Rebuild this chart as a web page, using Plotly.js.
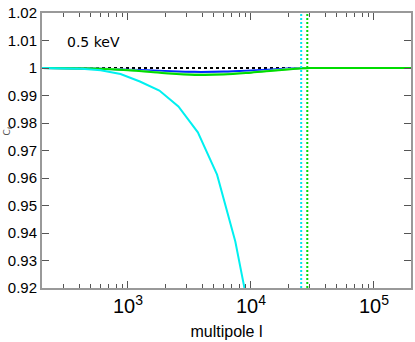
<!DOCTYPE html>
<html><head><meta charset="utf-8">
<script src="https://cdn.plot.ly/plotly-3.0.1.min.js"></script>
<style>html,body{margin:0;padding:0;background:#fff}#c{width:415px;height:342px}</style>
</head><body><div id="c"></div>
<script>
// multipole values
var ellCyan = [200, 290, 420, 600, 870, 1250, 1800, 2570, 3700, 5300, 7460, 10700];
var ratioCyan = [1.0, 0.9999, 0.9997, 0.9992, 0.9978, 0.9951, 0.9918, 0.9860, 0.9766, 0.9612, 0.9369, 0.9012];

var ellSmooth = [200, 500, 1000, 2000, 3500, 6000, 10000, 15000, 20000, 25000, 30000, 50000, 100000, 200000];
var ratioBlue = [1.0, 0.9998, 0.9994, 0.9989, 0.9986, 0.9987, 0.9991, 0.9995, 0.9998, 1.0, 1.0, 1.0, 1.0, 1.0];
var ratioLightBlue = [1.0, 0.9998, 0.9993, 0.9987, 0.9984, 0.9985, 0.9989, 0.9994, 0.9997, 0.9999, 1.0, 1.0, 1.0, 1.0];
var ratioGreen = [1.0, 0.9998, 0.9992, 0.9981, 0.9975, 0.9976, 0.9983, 0.9990, 0.9995, 0.9998, 1.0, 1.0, 1.0, 1.0];
var ratioLightGreen = [1.0, 0.9998, 0.9993, 0.9983, 0.9978, 0.9979, 0.9985, 0.9991, 0.9996, 0.9999, 1.0, 1.0, 1.0, 1.0];

var refEll = [200, 200000];
var refRatio = [1, 1];

var cutCyan = [25600, 25600];
var cutGreen = [28700, 28700];
var cutRange = [0.92, 1.02];

var label = "0.5 keV";
var xTitle = "multipole l";

var traces = [
  {x: refEll, y: refRatio, mode: 'lines', line: {color: '#000', width: 2, dash: '3px,3px'}},
  {x: ellSmooth, y: ratioLightBlue, mode: 'lines', line: {color: 'rgb(140,160,255)', width: 2, shape: 'spline'}},
  {x: ellSmooth, y: ratioBlue, mode: 'lines', line: {color: 'rgb(0,40,255)', width: 2, shape: 'spline'}},
  {x: ellSmooth, y: ratioLightGreen, mode: 'lines', line: {color: 'rgb(150,240,150)', width: 2, shape: 'spline'}},
  {x: ellSmooth, y: ratioGreen, mode: 'lines', line: {color: 'rgb(0,220,0)', width: 2, shape: 'spline'}},
  {x: ellCyan, y: ratioCyan, mode: 'lines', line: {color: 'rgb(0,240,240)', width: 2}},
  {x: cutCyan, y: cutRange, mode: 'lines', line: {color: 'rgb(0,230,240)', width: 2, dash: '2px,2px'}},
  {x: cutGreen, y: cutRange, mode: 'lines', line: {color: 'rgb(0,220,0)', width: 2, dash: '2px,2px'}}
];

var layout = {
  width: 415, height: 342,
  margin: {l: 42, r: 4, t: 13, b: 54},
  showlegend: false,
  paper_bgcolor: '#fff', plot_bgcolor: '#fff',
  font: {family: 'Liberation Sans, Arial, sans-serif', size: 15, color: '#000'},
  xaxis: {
    type: 'log', range: [Math.log10(200), Math.log10(200000)],
    dtick: 1, exponentformat: 'power',
    ticks: 'inside', ticklen: 7, tickwidth: 1, tickcolor: '#555',
    showline: true, linecolor: '#999', linewidth: 2, mirror: 'ticks',
    showgrid: false, zeroline: false,
    minor: {ticks: 'inside', ticklen: 4, tickcolor: '#555', dtick: 'D1', showgrid: false},
    tickfont: {size: 16},
    title: {text: xTitle, font: {size: 16}, standoff: 10}
  },
  yaxis: {
    range: [0.92, 1.02], dtick: 0.01,
    ticks: 'inside', ticklen: 7, tickwidth: 1, tickcolor: '#555',
    showline: true, linecolor: '#999', linewidth: 2, mirror: 'ticks',
    showgrid: false, zeroline: false,
    tickfont: {size: 15}
  },
  annotations: [
    {text: label, xref: 'paper', yref: 'paper', x: 0.063, y: 0.895, xanchor: 'left', yanchor: 'middle', showarrow: false,
     font: {family: 'DejaVu Sans, sans-serif', size: 14, color: '#000'}},
    {text: 'C<sub>ℓ</sub>', xref: 'paper', yref: 'paper', x: -0.094, y: 0.57, xanchor: 'center', yanchor: 'middle', showarrow: false, textangle: -90,
     font: {family: 'DejaVu Sans, sans-serif', size: 9, color: '#555'}}
  ]
};

Plotly.newPlot('c', traces, layout, {staticPlot: true, displayModeBar: false});
</script></body></html>
